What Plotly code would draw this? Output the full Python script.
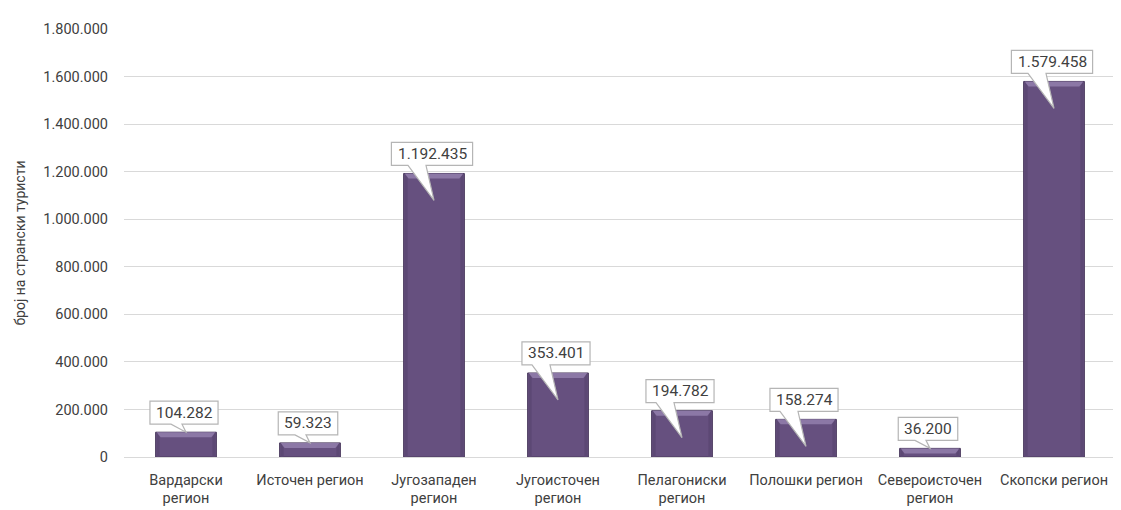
import plotly.graph_objects as go

categories = ["Вардарски<br>регион", "Источен регион", "Југозападен<br>регион",
              "Југоисточен<br>регион", "Пелагониски<br>регион", "Полошки регион",
              "Североисточен<br>регион", "Скопски регион"]
values = [104282, 59323, 1192435, 353401, 194782, 158274, 36200, 1579458]
y_ticks = [0, 200000, 400000, 600000, 800000, 1000000, 1200000, 1400000, 1600000, 1800000]
y_title = "број на странски туристи"

W, H = 1121, 510
ML, MR, MT, MB = 116, 13, 21, 61
BAR_FRAC = 0.49
FONT = "Roboto, 'Open Sans', sans-serif"
BAR_COLOR = "#66507f"

def fmt(v):
    return f"{v:,}".replace(",", ".")

x_idx = list(range(len(categories)))
labels = [fmt(v) for v in values]

fig = go.Figure()
fig.add_trace(go.Bar(
    x=x_idx, y=values, width=BAR_FRAC,
    marker=dict(color=BAR_COLOR, line=dict(color="#4a3a5e", width=1)),
    hoverinfo="skip",
))

plot_w = W - ML - MR
bar_px = plot_w / len(categories) * BAR_FRAC
half = bar_px / 2

shapes = []
annotations = []
for i, (v, t) in enumerate(zip(values, labels)):
    # top bevel highlight
    shapes.append(dict(
        type="path", xref="x", yref="y", xsizemode="pixel", ysizemode="pixel",
        xanchor=i, yanchor=v,
        path=f"M {-half+1},0 L {half-1},0 L {half-5},-5 L {-half+5},-5 Z",
        fillcolor="#8c78a6", line=dict(width=0), layer="above",
    ))
    # side shading
    for s in (-1, 1):
        shapes.append(dict(
            type="path", xref="x", yref="y", xsizemode="pixel", ysizemode="pixel",
            xanchor=i, yanchor=v,
            path=(f"M {s*(half-1)},0 L {s*(half-4)},-5 L {s*(half-4)},-10000 "
                  f"L {s*(half-1)},-10000 Z"),
            fillcolor="#5c4874", line=dict(width=0), layer="above",
        ))
    # callout
    ndig = sum(c.isdigit() for c in t)
    ndot = t.count(".")
    w = 8.6 * ndig + 4.5 * ndot + 12
    dx = -2
    gap, bh = 8, 23
    L, R = dx - w / 2, dx + w / 2
    B, T = gap, gap + bh
    tall = v > 150000
    depth = -27 if tall else 0
    bl, br = (-26, -8) if tall else (-15, -4)
    path = (f"M {L},{B} L {bl},{B} L 0,{depth} L {br},{B} L {R},{B} "
            f"L {R},{T} L {L},{T} Z")
    shapes.append(dict(
        type="path", xref="x", yref="y", xsizemode="pixel", ysizemode="pixel",
        xanchor=i, yanchor=v, path=path,
        fillcolor="white", line=dict(color="#b5b5b5", width=1.2), layer="above",
    ))
    annotations.append(dict(
        x=i, y=v, xref="x", yref="y", text=t, showarrow=False,
        xshift=dx, yshift=gap + bh / 2, yanchor="middle",
        font=dict(family=FONT, size=15.5, color="#404040"),
    ))

fig.update_layout(
    width=W, height=H,
    margin=dict(l=ML, r=MR, t=MT, b=MB, autoexpand=False),
    paper_bgcolor="white", plot_bgcolor="white",
    separators=",.",
    showlegend=False,
    shapes=shapes, annotations=annotations,
    font=dict(family=FONT, color="#404040"),
)
fig.update_xaxes(
    range=[-0.5, len(categories) - 0.5],
    tickvals=x_idx, ticktext=categories,
    showgrid=False, zeroline=False, showline=False, ticks="",
    tickfont=dict(family=FONT, size=14.5, color="#404040"),
    ticklabelstandoff=12,
)
fig.update_yaxes(
    range=[0, 1800000], tickvals=y_ticks, tickformat=",d",
    showgrid=True, gridcolor="#d9d9d9", gridwidth=1,
    zeroline=True, zerolinecolor="#d9d9d9", zerolinewidth=1,
    showline=False, ticks="",
    tickfont=dict(family=FONT, size=14.5, color="#404040"),
    ticklabelstandoff=15,
    title=dict(text=y_title, font=dict(family=FONT, size=14, color="#404040"), standoff=14),
)

fig.write_html("out.html")
